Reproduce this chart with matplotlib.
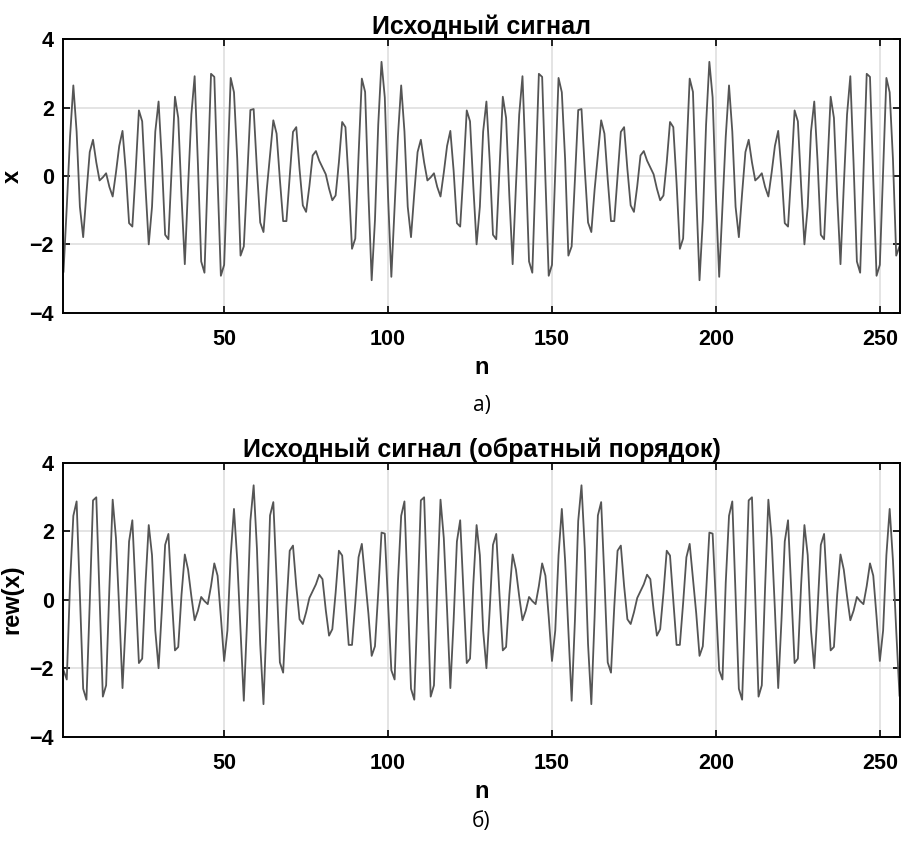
import numpy as np
import matplotlib
matplotlib.use('Agg')
import matplotlib.pyplot as plt

plt.rcParams['font.family'] = ['Liberation Sans', 'DejaVu Sans']

# signal samples (n = 1..256)
x = [
    -2.80, -0.90, 1.15, 2.65, 1.30, -0.90, -1.79, -0.50, 0.70, 1.06,
    0.40, -0.13, -0.04, 0.08, -0.32, -0.60, 0.10, 0.88, 1.32, 0.15,
    -1.38, -1.48, 0.12, 1.92, 1.60, -0.30, -2.00, -0.90, 1.30, 2.18,
    0.45, -1.72, -1.85, 0.25, 2.32, 1.70, -0.60, -2.58, -0.30, 1.80,
    2.92, 0.35, -2.50, -2.83, 0.10, 2.99, 2.90, -0.10, -2.92, -2.60,
    0.10, 2.87, 2.45, 0.50, -2.33, -2.06, -0.10, 1.93, 1.96, 0.20,
    -1.36, -1.64, -0.40, 0.60, 1.63, 1.24, -0.10, -1.32, -1.32, 0.00,
    1.29, 1.43, 0.20, -0.86, -1.05, -0.30, 0.60, 0.73, 0.45, 0.25,
    0.05, -0.37, -0.71, -0.57, 0.40, 1.58, 1.43, -0.20, -2.13, -1.83,
    0.60, 2.85, 2.46, -0.50, -3.05, -1.30, 1.50, 3.34, 2.30, -0.60,
    -2.95, -0.90, 1.15, 2.65, 1.30, -0.90, -1.79, -0.50, 0.70, 1.06,
    0.40, -0.13, -0.04, 0.08, -0.32, -0.60, 0.10, 0.88, 1.32, 0.15,
    -1.38, -1.48, 0.12, 1.92, 1.60, -0.30, -2.00, -0.90, 1.30, 2.18,
    0.45, -1.72, -1.85, 0.25, 2.32, 1.70, -0.60, -2.58, -0.30, 1.80,
    2.92, 0.35, -2.50, -2.83, 0.10, 2.99, 2.90, -0.10, -2.92, -2.60,
    0.10, 2.87, 2.45, 0.50, -2.33, -2.06, -0.10, 1.93, 1.96, 0.20,
    -1.36, -1.64, -0.40, 0.60, 1.63, 1.24, -0.10, -1.32, -1.32, 0.00,
    1.29, 1.43, 0.20, -0.86, -1.05, -0.30, 0.60, 0.73, 0.45, 0.25,
    0.05, -0.37, -0.71, -0.57, 0.40, 1.58, 1.43, -0.20, -2.13, -1.83,
    0.60, 2.85, 2.46, -0.50, -3.05, -1.30, 1.50, 3.34, 2.30, -0.60,
    -2.95, -0.90, 1.15, 2.65, 1.30, -0.90, -1.79, -0.50, 0.70, 1.06,
    0.40, -0.13, -0.04, 0.08, -0.32, -0.60, 0.10, 0.88, 1.32, 0.15,
    -1.38, -1.48, 0.12, 1.92, 1.60, -0.30, -2.00, -0.90, 1.30, 2.18,
    0.45, -1.72, -1.85, 0.25, 2.32, 1.70, -0.60, -2.58, -0.30, 1.80,
    2.92, 0.35, -2.50, -2.83, 0.10, 2.99, 2.90, -0.10, -2.92, -2.60,
    0.10, 2.87, 2.45, 0.50, -2.33, -2.06,
]
n = np.arange(1, len(x) + 1)
rew = x[::-1]

xticks = [50, 100, 150, 200, 250]
yticks = [-4, -2, 0, 2, 4]

titles = ['Исходный сигнал', 'Исходный сигнал (обратный порядок)']
ylabels = ['x', 'rew(x)']
captions = ['а)', 'б)']

W, H = 901, 843
fig = plt.figure(figsize=(W / 100, H / 100), dpi=100)

# axes boxes in pixels: left, right, top, bottom
boxes = [(63.5, 899.5, 39.3, 312.7), (63.5, 899.5, 462.7, 736.7)]
caption_y = [405, 822]

for i, (data, box) in enumerate(zip([x, rew], boxes)):
    l, r, t, b = box
    ax = fig.add_axes([l / W, 1 - b / H, (r - l) / W, (b - t) / H])
    ax.plot(n, data, color='#555555', lw=1.3)
    ax.set_xlim(1, 256)
    ax.set_ylim(-4, 4)
    ax.set_xticks(xticks)
    ax.set_yticks(yticks)
    ax.grid(True, color='#dcdcdc', lw=1.1)
    ax.set_axisbelow(True)
    ax.tick_params(direction='in', length=5, width=1.2, top=True, right=True,
                   labelsize=15.5, pad=7)
    ax.tick_params(axis='x', pad=12)
    for lab in ax.get_xticklabels() + ax.get_yticklabels():
        lab.set_fontweight('bold')
    for s in ax.spines.values():
        s.set_linewidth(1.4)
    ax.set_title(titles[i], fontsize=18, fontweight='bold', pad=4)
    ax.set_xlabel('n', fontsize=17, fontweight='bold', labelpad=4)
    ax.set_ylabel(ylabels[i], fontsize=17, fontweight='bold', labelpad=4)
    fig.text((l + r) / 2 / W, 1 - caption_y[i] / H, captions[i],
             ha='center', va='center', fontsize=15, family='Open Sans')

fig.savefig('out.png', dpi=100)
